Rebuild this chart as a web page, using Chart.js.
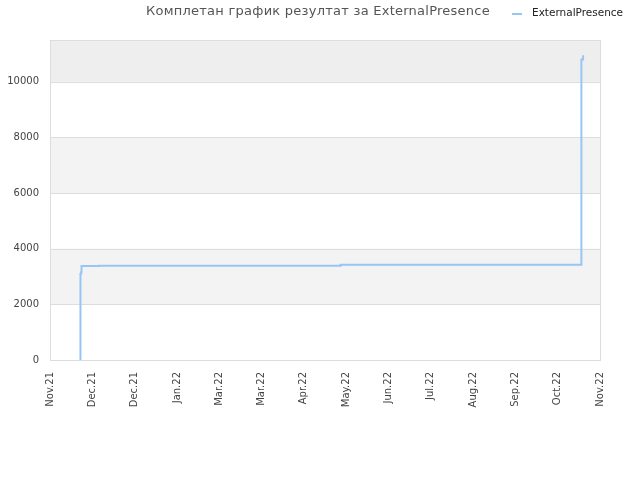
<!DOCTYPE html>
<html><head><meta charset="utf-8">
<script src="https://cdn.jsdelivr.net/npm/chart.js@4/dist/chart.umd.min.js"></script>
<style>html,body{margin:0;padding:0;background:#fff}</style>
</head><body>
<canvas id="c" width="640" height="480"></canvas>
<script>
const titleText = "Комплетан график резултат за ExternalPresence";
const seriesName = "ExternalPresence";
const tickLabels = ["Nov.21","Dec.21","Dec.21","Jan.22","Mar.22","Mar.22","Apr.22","May.22","Jun.22","Jul.22","Aug.22","Sep.22","Oct.22","Nov.22"];
const pointPos = [0.715, 0.72, 0.735, 0.745, 1.16, 6.87, 12.56, 12.6];
const pointVals = [0, 3100, 3150, 3380, 3390, 3420, 10800, 10950];
const yMax = 11500;
const yStep = 2000;

const FONT = "'DejaVu Sans', sans-serif";

const bgPlugin = {
  id: 'bg',
  beforeDatasetsDraw(chart) {
    const {ctx, chartArea: a, scales: {y}} = chart;
    ctx.save();
    let i = 0;
    for (let v = 0; v < yMax; v += yStep, i++) {
      const top = y.getPixelForValue(Math.min(v + yStep, yMax));
      const bot = y.getPixelForValue(v);
      if (i % 2 === 1) {
        ctx.fillStyle = (v + yStep >= yMax) ? '#eeeeee' : '#f3f3f3';
        ctx.fillRect(a.left, top, a.right - a.left, bot - top);
      }
    }
    ctx.strokeStyle = '#dddddd';
    ctx.lineWidth = 1;
    for (let v = yStep; v < yMax; v += yStep) {
      const py = Math.round(y.getPixelForValue(v)) + 0.5;
      ctx.beginPath(); ctx.moveTo(a.left, py); ctx.lineTo(a.right, py); ctx.stroke();
    }
    ctx.strokeRect(Math.round(a.left) + 0.5, Math.round(a.top) + 0.5, Math.round(a.right - a.left), Math.round(a.bottom - a.top));
    ctx.restore();
  },
  afterDraw(chart) {
    const ctx = chart.ctx;
    ctx.save();
    ctx.fillStyle = '#555555';
    ctx.font = "13px " + FONT;
    try { ctx.letterSpacing = '0.25px'; } catch (e) {}
    ctx.textAlign = 'center';
    ctx.textBaseline = 'middle';
    ctx.fillText(titleText, 318, 12);
    try { ctx.letterSpacing = '0px'; } catch (e) {}
    ctx.strokeStyle = '#97c6f5';
    ctx.lineWidth = 2;
    ctx.beginPath(); ctx.moveTo(512, 14); ctx.lineTo(522, 14); ctx.stroke();
    ctx.fillStyle = '#222222';
    ctx.font = "10.5px " + FONT;
    ctx.textAlign = 'left';
    ctx.fillText(seriesName, 532, 13);
    ctx.restore();
  }
};

new Chart(document.getElementById('c'), {
  type: 'line',
  data: {
    datasets: [{
      label: seriesName,
      data: pointPos.map((p, i) => ({x: p, y: pointVals[i]})),
      borderColor: '#97c6f5',
      borderWidth: 2,
      pointRadius: 0,
      stepped: 'before',
      fill: false
    }]
  },
  options: {
    responsive: false,
    animation: false,
    layout: {padding: {top: 40, right: 40, left: 0, bottom: 0}},
    plugins: {legend: {display: false}, title: {display: false}, tooltip: {enabled: false}},
    scales: {
      x: {
        type: 'linear', min: 0, max: tickLabels.length - 1,
        border: {display: false},
        grid: {display: false, drawTicks: false},
        afterFit(s) { s.height = 120; },
        afterBuildTicks(s) { s.ticks = tickLabels.map((_, i) => ({value: i})); },
        ticks: {
          autoSkip: false, minRotation: 90, maxRotation: 90, padding: 12,
          color: '#444444', font: {family: FONT, size: 10},
          callback: (v) => tickLabels[v]
        }
      },
      y: {
        min: 0, max: yMax,
        border: {display: false},
        grid: {display: false, drawTicks: false},
        afterFit(s) { s.width = 50; },
        afterBuildTicks(s) {
          const t = [];
          for (let v = 0; v < yMax; v += yStep) t.push({value: v});
          s.ticks = t;
        },
        ticks: {padding: 11, color: '#444444', font: {family: FONT, size: 10}, callback: (v) => String(v)}
      }
    }
  },
  plugins: [bgPlugin]
});
</script>
</body></html>
